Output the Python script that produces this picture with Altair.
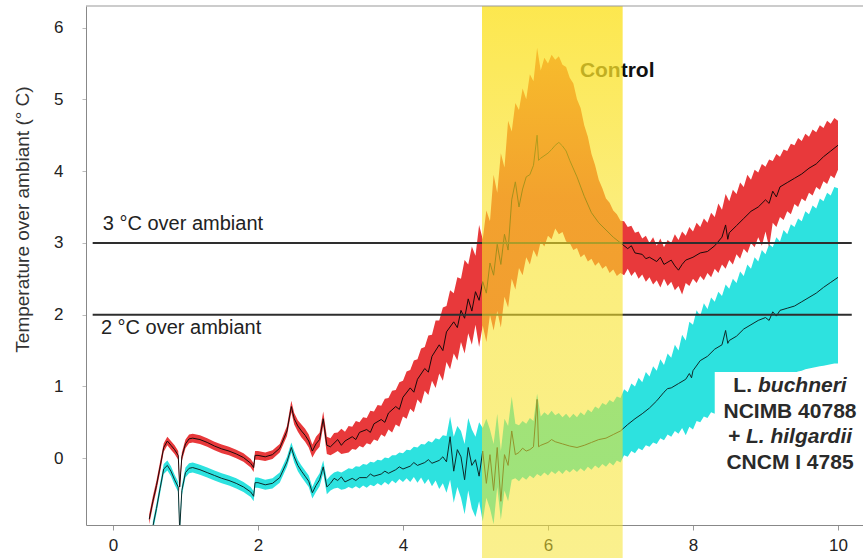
import altair as alt
import pandas as pd

# ---------------- data ----------------
# Control (red) : band and mean line
red_early_x = [0.50, 0.55, 0.60, 0.65, 0.70, 0.75, 0.80, 0.85, 0.90, 0.92, 0.95, 1.00, 1.05, 1.10, 1.20,
               1.30, 1.40, 1.50, 1.60, 1.70, 1.80, 1.90, 1.94, 1.96, 2.00, 2.10, 2.20, 2.30, 2.40, 2.46,
               2.50, 2.55, 2.60, 2.65, 2.70, 2.75, 2.80, 2.85, 2.90, 2.95]
red_early_mid = [-0.85, -0.60, -0.38, -0.12, 0.15, 0.24, 0.18, 0.12, 0.04, -0.40, 0.02, 0.20, 0.27, 0.28, 0.26,
                 0.22, 0.17, 0.13, 0.10, 0.06, 0.01, -0.07, -0.13, 0.04, 0.04, 0.02, 0.05, 0.14, 0.38, 0.72,
                 0.55, 0.45, 0.38, 0.32, 0.24, 0.10, 0.20, 0.26, 0.55, 0.18]
red_early_lo = [-0.92, -0.67, -0.45, -0.19, 0.09, 0.18, 0.12, 0.06, -0.02, -0.46, -0.04, 0.14, 0.21, 0.22, 0.20,
                0.16, 0.11, 0.07, 0.04, 0.00, -0.05, -0.13, -0.19, -0.02, -0.02, -0.04, -0.01, 0.08, 0.31, 0.64,
                0.47, 0.37, 0.29, 0.23, 0.15, 0.01, 0.10, 0.16, 0.45, 0.06]
red_early_hi = [-0.78, -0.53, -0.31, -0.05, 0.21, 0.30, 0.24, 0.18, 0.10, -0.34, 0.08, 0.26, 0.33, 0.34, 0.32,
                0.28, 0.23, 0.19, 0.16, 0.12, 0.07, -0.01, -0.07, 0.10, 0.10, 0.08, 0.11, 0.20, 0.45, 0.80,
                0.63, 0.53, 0.47, 0.41, 0.33, 0.19, 0.30, 0.36, 0.65, 0.30]

band_x = [3.00, 3.05, 3.10, 3.15, 3.20, 3.25, 3.30, 3.35, 3.40, 3.45, 3.50, 3.55, 3.60, 3.65, 3.70, 3.75,
          3.80, 3.85, 3.90, 3.95, 4.00, 4.05, 4.10, 4.15, 4.20, 4.25, 4.30, 4.35, 4.40, 4.45, 4.50, 4.55,
          4.60, 4.65, 4.70, 4.75, 4.80, 4.85, 4.90, 4.95, 5.00, 5.05, 5.10, 5.15, 5.20, 5.25, 5.30, 5.35,
          5.40, 5.45, 5.50, 5.55, 5.60, 5.65, 5.70, 5.75, 5.80, 5.85, 5.90, 5.95, 6.00, 6.05, 6.10, 6.15,
          6.20, 6.25, 6.30, 6.35, 6.40, 6.45, 6.50, 6.55, 6.60, 6.65, 6.70, 6.75, 6.80, 6.85, 6.90, 6.95,
          7.00, 7.05, 7.10, 7.15, 7.20, 7.25, 7.30, 7.35, 7.40, 7.45, 7.50, 7.55, 7.60, 7.65, 7.70, 7.75,
          7.80, 7.85, 7.90, 7.95, 8.00, 8.05, 8.10, 8.15, 8.20, 8.25, 8.30, 8.35, 8.40, 8.45, 8.50, 8.55,
          8.60, 8.65, 8.70, 8.75, 8.80, 8.85, 8.90, 8.95, 9.00, 9.05, 9.10, 9.15, 9.20, 9.25, 9.30, 9.35,
          9.40, 9.45, 9.50, 9.55, 9.60, 9.65, 9.70, 9.75, 9.80, 9.85, 9.90, 9.95, 10.00]
red_band_hi = [0.28, 0.35, 0.36, 0.41, 0.37, 0.45, 0.44, 0.52, 0.50, 0.57, 0.56, 0.66, 0.65, 0.74, 0.73, 0.83,
               0.84, 0.94, 0.95, 1.06, 1.08, 1.21, 1.23, 1.36, 1.38, 1.53, 1.55, 1.71, 1.72, 1.92, 1.92, 2.10,
               2.12, 2.34, 2.30, 2.52, 2.50, 2.76, 2.70, 2.95, 2.82, 3.25, 3.05, 3.45, 3.30, 3.95, 3.70, 4.25,
               4.05, 4.70, 4.55, 4.95, 4.85, 5.15, 5.00, 5.35, 5.25, 5.72, 5.40, 5.58, 5.50, 5.62, 5.55, 5.60,
               5.48, 5.45, 5.30, 5.22, 5.00, 4.88, 4.64, 4.48, 4.24, 4.08, 3.88, 3.76, 3.62, 3.56, 3.45, 3.40,
               3.31, 3.30, 3.22, 3.24, 3.14, 3.16, 3.06, 3.10, 3.00, 3.08, 2.96, 3.06, 2.94, 3.04, 3.00, 3.12,
               3.04, 3.16, 3.10, 3.22, 3.16, 3.28, 3.22, 3.34, 3.28, 3.42, 3.36, 3.55, 3.46, 3.68, 3.58, 3.74,
               3.68, 3.84, 3.78, 3.95, 3.88, 4.02, 3.98, 4.10, 4.06, 4.16, 4.14, 4.24, 4.20, 4.30, 4.28, 4.38,
               4.36, 4.46, 4.42, 4.52, 4.48, 4.58, 4.54, 4.64, 4.60, 4.70, 4.66, 4.74, 4.70]
red_band_lo = [0.04, 0.07, 0.10, 0.06, 0.07, 0.08, 0.13, 0.12, 0.17, 0.15, 0.21, 0.19, 0.26, 0.24, 0.33, 0.30,
               0.40, 0.36, 0.47, 0.44, 0.58, 0.55, 0.69, 0.64, 0.82, 0.76, 0.94, 0.88, 1.08, 0.98, 1.18, 1.08,
               1.34, 1.24, 1.46, 1.36, 1.62, 1.46, 1.74, 1.58, 1.86, 1.55, 1.85, 1.62, 2.00, 1.78, 2.05, 1.82,
               2.25, 2.10, 2.50, 2.35, 2.65, 2.55, 2.80, 2.70, 2.90, 2.80, 3.02, 2.95, 3.10, 3.05, 3.20, 3.12,
               3.15, 3.02, 3.00, 2.90, 2.93, 2.80, 2.84, 2.74, 2.78, 2.68, 2.73, 2.64, 2.68, 2.58, 2.63, 2.54,
               2.58, 2.55, 2.64, 2.54, 2.60, 2.50, 2.56, 2.46, 2.52, 2.42, 2.48, 2.38, 2.50, 2.40, 2.46, 2.34,
               2.40, 2.28, 2.44, 2.40, 2.50, 2.44, 2.54, 2.48, 2.58, 2.52, 2.64, 2.58, 2.70, 2.64, 2.76, 2.70,
               2.84, 2.78, 2.92, 2.86, 3.00, 2.94, 3.08, 2.96, 3.16, 2.94, 3.28, 3.22, 3.36, 3.32, 3.44, 3.40,
               3.54, 3.50, 3.62, 3.58, 3.70, 3.66, 3.78, 3.74, 3.86, 3.82, 3.94, 3.90, 4.02]

red_line_x = [3.00, 3.10, 3.15, 3.20, 3.30, 3.35, 3.40, 3.50, 3.55, 3.60, 3.70, 3.75, 3.80, 3.90, 3.95, 4.00,
              4.10, 4.15, 4.20, 4.30, 4.35, 4.40, 4.50, 4.55, 4.60, 4.70, 4.75, 4.80, 4.85, 4.90, 4.95, 5.00,
              5.05, 5.10, 5.15, 5.20, 5.25, 5.30, 5.35, 5.40, 5.45, 5.50, 5.55, 5.60, 5.65, 5.70, 5.75, 5.80,
              5.85, 5.87, 5.90, 6.00, 6.05, 6.10, 6.15, 6.20, 6.25, 6.30, 6.40, 6.50, 6.60, 6.70, 6.80, 6.90,
              7.00, 7.10, 7.15, 7.20, 7.30, 7.35, 7.40, 7.50, 7.55, 7.60, 7.70, 7.75, 7.80, 7.85, 7.90, 8.00,
              8.10, 8.20, 8.30, 8.40, 8.45, 8.48, 8.50, 8.60, 8.70, 8.80, 8.90, 9.00, 9.05, 9.10, 9.15, 9.20,
              9.30, 9.40, 9.50, 9.60, 9.70, 9.80, 9.90, 10.00]
red_line_mid = [0.16, 0.26, 0.18, 0.24, 0.30, 0.26, 0.36, 0.40, 0.36, 0.48, 0.54, 0.50, 0.63, 0.72, 0.68, 0.85,
                0.98, 0.92, 1.10, 1.25, 1.20, 1.42, 1.58, 1.50, 1.76, 1.90, 1.82, 2.06, 1.95, 2.22, 2.05, 2.32,
                2.20, 2.46, 2.30, 2.72, 2.55, 2.98, 2.70, 3.12, 2.90, 3.60, 3.85, 3.50, 3.75, 3.92, 3.95, 4.08,
                4.50, 4.15, 4.18, 4.25, 4.30, 4.36, 4.40, 4.35, 4.28, 4.15, 3.92, 3.65, 3.42, 3.28, 3.18, 3.08,
                3.00, 2.92, 2.96, 2.86, 2.84, 2.78, 2.80, 2.74, 2.80, 2.70, 2.76, 2.68, 2.62, 2.70, 2.76, 2.80,
                2.86, 2.88, 2.96, 3.08, 3.25, 3.05, 3.14, 3.24, 3.34, 3.44, 3.50, 3.60, 3.55, 3.72, 3.64, 3.78,
                3.84, 3.90, 3.96, 4.04, 4.10, 4.20, 4.28, 4.36]

# L. buchneri + L. hilgardii (cyan) : band and mean line
cyan_early_x = [0.55, 0.60, 0.65, 0.70, 0.75, 0.80, 0.85, 0.90, 0.92, 0.95, 1.00, 1.05, 1.10, 1.20, 1.30,
                1.40, 1.50, 1.60, 1.70, 1.80, 1.90, 1.94, 1.96, 2.00, 2.10, 2.20, 2.30, 2.40, 2.46, 2.50,
                2.55, 2.60, 2.65, 2.70, 2.75, 2.80, 2.85, 2.90, 2.95]
cyan_early_mid = [-0.95, -0.70, -0.42, -0.15, -0.10, -0.18, -0.30, -0.40, -1.00, -0.45, -0.20, -0.14, -0.13,
                  -0.16, -0.20, -0.24, -0.28, -0.31, -0.35, -0.40, -0.47, -0.53, -0.34, -0.34, -0.37, -0.35,
                  -0.27, -0.05, 0.15, 0.02, -0.10, -0.18, -0.25, -0.32, -0.48, -0.38, -0.30, -0.12, -0.40]
cyan_early_lo = [-1.02, -0.77, -0.49, -0.22, -0.17, -0.25, -0.37, -0.47, -1.07, -0.52, -0.27, -0.21, -0.20,
                 -0.23, -0.27, -0.31, -0.35, -0.38, -0.42, -0.47, -0.54, -0.60, -0.41, -0.41, -0.44, -0.42,
                 -0.34, -0.12, 0.08, -0.06, -0.18, -0.26, -0.33, -0.40, -0.56, -0.47, -0.39, -0.21, -0.50]
cyan_early_hi = [-0.88, -0.63, -0.35, -0.08, -0.03, -0.11, -0.23, -0.33, -0.93, -0.38, -0.13, -0.07, -0.06,
                 -0.09, -0.13, -0.17, -0.21, -0.24, -0.28, -0.33, -0.40, -0.46, -0.27, -0.27, -0.30, -0.28,
                 -0.20, 0.02, 0.22, 0.10, -0.02, -0.10, -0.17, -0.24, -0.40, -0.29, -0.21, -0.03, -0.30]

cyan_band_hi = [-0.24, -0.20, -0.18, -0.20, -0.17, -0.14, -0.15, -0.11, -0.12, -0.08, -0.09, -0.05, -0.06,
                -0.02, -0.03, 0.01, 0.00, 0.04, 0.04, 0.08, 0.07, 0.12, 0.11, 0.16, 0.15, 0.20, 0.19, 0.24,
                0.22, 0.28, 0.26, 0.32, 0.31, 0.58, 0.30, 0.45, 0.38, 0.20, 0.56, 0.40, 0.30, 0.50, 0.42, 0.55,
                0.40, 0.20, 0.62, 0.10, 0.55, 0.45, 0.86, 0.48, 0.46, 0.52, 0.48, 0.56, 0.52, 0.90, 0.58, 0.64,
                0.60, 0.66, 0.60, 0.63, 0.57, 0.62, 0.56, 0.62, 0.57, 0.64, 0.60, 0.68, 0.64, 0.72, 0.69, 0.77,
                0.74, 0.81, 0.78, 0.86, 0.84, 0.96, 0.92, 1.04, 1.00, 1.12, 1.06, 1.20, 1.14, 1.28, 1.22, 1.38,
                1.30, 1.46, 1.40, 1.58, 1.50, 1.72, 1.64, 1.90, 1.86, 2.06, 1.98, 2.16, 2.08, 2.24, 2.18, 2.32,
                2.26, 2.42, 2.36, 2.50, 2.44, 2.60, 2.54, 2.70, 2.64, 2.80, 2.74, 2.90, 2.84, 2.98, 2.94, 3.08,
                3.02, 3.18, 3.12, 3.26, 3.22, 3.34, 3.30, 3.44, 3.40, 3.52, 3.48, 3.62, 3.58, 3.70, 3.66, 3.78,
                3.76]
cyan_band_lo = [-0.45, -0.42, -0.41, -0.44, -0.43, -0.40, -0.42, -0.39, -0.42, -0.38, -0.41, -0.37, -0.39,
                -0.35, -0.38, -0.33, -0.37, -0.31, -0.35, -0.29, -0.33, -0.28, -0.33, -0.26, -0.34, -0.27,
                -0.36, -0.29, -0.39, -0.31, -0.43, -0.35, -0.48, -0.30, -0.62, -0.40, -0.55, -0.78, -0.45,
                -0.70, -0.82, -0.60, -0.88, -0.55, -0.70, -0.92, -0.40, -0.86, -0.45, -0.60, -0.30, -0.28,
                -0.32, -0.26, -0.30, -0.24, -0.28, -0.22, -0.25, -0.20, -0.24, -0.18, -0.22, -0.17, -0.22,
                -0.16, -0.20, -0.15, -0.19, -0.14, -0.18, -0.12, -0.16, -0.10, -0.14, -0.08, -0.12, -0.06,
                -0.10, -0.03, -0.06, 0.04, 0.02, 0.10, 0.07, 0.14, 0.11, 0.18, 0.16, 0.22, 0.20, 0.28, 0.25,
                0.33, 0.30, 0.38, 0.34, 0.42, 0.32, 0.44, 0.40, 0.52, 0.50, 0.58, 0.56, 0.64, 0.62, 0.70, 0.68,
                0.75, 0.74, 0.80, 0.80, 0.86, 0.86, 0.92, 0.92, 0.98, 0.98, 1.03, 1.03, 1.07, 1.08, 1.11, 1.12,
                1.15, 1.16, 1.18, 1.19, 1.21, 1.22, 1.24, 1.25, 1.26, 1.27, 1.28, 1.29, 1.30, 1.31, 1.32, 1.32]

cyan_line_x = [3.00, 3.05, 3.10, 3.15, 3.20, 3.30, 3.35, 3.40, 3.50, 3.55, 3.60, 3.70, 3.75, 3.80, 3.90, 3.95,
               4.00, 4.10, 4.15, 4.20, 4.30, 4.35, 4.40, 4.50, 4.55, 4.60, 4.65, 4.70, 4.75, 4.80, 4.85, 4.90,
               4.95, 5.00, 5.05, 5.10, 5.15, 5.20, 5.25, 5.30, 5.35, 5.40, 5.45, 5.50, 5.55, 5.60, 5.65, 5.70,
               5.75, 5.80, 5.85, 5.87, 5.90, 6.00, 6.05, 6.10, 6.20, 6.30, 6.40, 6.50, 6.60, 6.70, 6.80, 6.90,
               7.00, 7.10, 7.20, 7.30, 7.40, 7.50, 7.60, 7.65, 7.70, 7.80, 7.90, 7.95, 7.98, 8.00, 8.10, 8.20,
               8.30, 8.40, 8.45, 8.48, 8.50, 8.60, 8.70, 8.80, 8.90, 9.00, 9.05, 9.10, 9.15, 9.20, 9.30, 9.40,
               9.50, 9.60, 9.70, 9.80, 9.90, 10.00]
cyan_line_mid = [-0.35, -0.28, -0.31, -0.26, -0.33, -0.28, -0.31, -0.27, -0.27, -0.22, -0.25, -0.22, -0.18,
                 -0.21, -0.16, -0.12, -0.15, -0.11, -0.06, -0.10, -0.06, -0.02, -0.07, -0.03, 0.02, -0.05,
                 0.30, -0.18, 0.12, 0.02, -0.30, 0.15, -0.10, -0.02, -0.25, 0.10, -0.35, 0.05, -0.45, 0.15,
                 -0.60, 0.05, -0.10, 0.38, 0.05, 0.08, 0.14, 0.10, 0.12, 0.16, 0.82, 0.16, 0.18, 0.22, 0.26,
                 0.23, 0.20, 0.17, 0.15, 0.18, 0.22, 0.26, 0.28, 0.33, 0.38, 0.47, 0.55, 0.62, 0.70, 0.80,
                 0.92, 0.97, 0.98, 1.04, 1.10, 1.18, 1.12, 1.22, 1.36, 1.42, 1.52, 1.58, 1.78, 1.60, 1.64,
                 1.70, 1.80, 1.86, 1.92, 1.96, 1.92, 2.04, 1.98, 2.06, 2.09, 2.12, 2.18, 2.24, 2.30, 2.38,
                 2.45, 2.52]

# reference lines, highlighted window, labels
ref_levels = [3, 2]
ref_x_start = -0.28
ref_x_end = 10.19
window_start, window_end = 5.09, 7.03
x_ticks = [0, 2, 4, 6, 8, 10]
y_ticks = [0, 1, 2, 3, 4, 5, 6]

# ---------------- tables ----------------
red_band = pd.DataFrame({"x": red_early_x + band_x,
                         "lo": red_early_lo + red_band_lo,
                         "hi": red_early_hi + red_band_hi})
red_line = pd.DataFrame({"x": red_early_x + red_line_x, "y": red_early_mid + red_line_mid})
cyan_band = pd.DataFrame({"x": cyan_early_x + band_x,
                          "lo": cyan_early_lo + cyan_band_lo,
                          "hi": cyan_early_hi + cyan_band_hi})
cyan_line = pd.DataFrame({"x": cyan_early_x + cyan_line_x, "y": cyan_early_mid + cyan_line_mid})

W, H = 777, 519
FONT = "Liberation Sans"
RED = "#E8393B"
CYAN = "#2DE2DF"

xs = alt.Scale(domain=[-0.372, 10.345], nice=False, zero=False)
ys = alt.Scale(domain=[-0.93, 6.3], nice=False, zero=False)
xaxis = alt.Axis(values=x_ticks, title=None, grid=False, labelFontSize=17, labelFont=FONT,
                 labelColor="#222", tickSize=5, tickColor="#999", domainColor="#888",
                 labelPadding=7, labelFlush=False)
yaxis = alt.Axis(values=y_ticks, title="Temperature over ambiant (° C)", grid=False, labelFontSize=17,
                 labelFont=FONT, labelColor="#222", tickSize=4, tickColor="#bbb", domainColor="#888",
                 labelPadding=19, titleFont=FONT, titleFontSize=19, titleFontWeight="normal",
                 titleColor="#333", titleAngle=270, titleX=-64, titleY=213, titleAlign="center",
                 titleBaseline="middle")


def X(f):
    return alt.X(f, type="quantitative", scale=xs, axis=xaxis)


def Y(f):
    return alt.Y(f, type="quantitative", scale=ys, axis=yaxis)


cyan_area = alt.Chart(cyan_band).mark_area(color=CYAN, clip=True, opacity=1).encode(
    x=X("x"), y=Y("lo"), y2="hi")
red_area = alt.Chart(red_band).mark_area(color=RED, clip=True, opacity=1).encode(
    x=X("x"), y=Y("lo"), y2="hi")
cyan_mean = alt.Chart(cyan_line).mark_line(color="#0d2a2a", strokeWidth=1, clip=True).encode(
    x=X("x"), y=Y("y"))
red_mean = alt.Chart(red_line).mark_line(color="#1a0a0a", strokeWidth=1, clip=True).encode(
    x=X("x"), y=Y("y"))

refs = pd.DataFrame({"x": [ref_x_start] * 2, "x2": [ref_x_end] * 2, "y": ref_levels})
ref_rules = alt.Chart(refs).mark_rule(color="#2e2e2e", strokeWidth=2).encode(
    x=X("x"), x2="x2", y=Y("y"))

ann = pd.DataFrame({"x": [-0.14, -0.166], "y": [3.26, 1.81],
                    "t": ["3 °C over ambiant", "2 °C over ambiant"]})
ann_text = alt.Chart(ann).mark_text(align="left", baseline="middle", font=FONT, fontSize=20,
                                    color="#222").encode(x=X("x"), y=Y("y"), text="t:N")

ctrl = pd.DataFrame({"x": [6.44], "y": [5.40], "t": ["Control"]})
ctrl_text = alt.Chart(ctrl).mark_text(align="left", baseline="middle", font=FONT, fontSize=21,
                                      fontWeight="bold", color="#111").encode(
    x=X("x"), y=Y("y"), text="t:N")

box = pd.DataFrame({"x": [8.30], "x2": [10.345], "y": [1.20], "y2": [-0.93]})
white_box = alt.Chart(box).mark_rect(color="white", clip=True).encode(
    x=X("x"), x2="x2", y=Y("y"), y2="y2")

lab_x = 9.338
lab_plain = pd.DataFrame({"x": [lab_x, lab_x], "y": [0.65, -0.07], "t": ["NCIMB 40788", "CNCM I 4785"]})
lab_ital = pd.DataFrame({"x": [lab_x], "y": [0.29], "t": ["+ L. hilgardii"]})
lab_l = pd.DataFrame({"x": [lab_x], "y": [1.00], "t": ["L."]})
lab_b = pd.DataFrame({"x": [lab_x], "y": [1.00], "t": ["buchneri"]})
common = dict(baseline="middle", font=FONT, fontSize=21, fontWeight="bold", color="#2a2a2a")
t1 = alt.Chart(lab_plain).mark_text(align="center", **common).encode(x=X("x"), y=Y("y"), text="t:N")
t2 = alt.Chart(lab_ital).mark_text(align="center", fontStyle="italic", **common).encode(
    x=X("x"), y=Y("y"), text="t:N")
t3 = alt.Chart(lab_l).mark_text(align="right", dx=-38, **common).encode(x=X("x"), y=Y("y"), text="t:N")
t4 = alt.Chart(lab_b).mark_text(align="left", dx=-32, fontStyle="italic", **common).encode(
    x=X("x"), y=Y("y"), text="t:N")

win = pd.DataFrame({"x": [window_start], "x2": [window_end]})
yellow = alt.Chart(win).mark_rect(
    color=alt.LinearGradient(
        gradient="linear", x1=0, x2=0, y1=0, y2=1,
        stops=[alt.GradientStop(offset=0, color="rgba(252,226,40,0.82)"),
               alt.GradientStop(offset=0.35, color="rgba(249,226,38,0.62)"),
               alt.GradientStop(offset=1, color="rgba(246,228,48,0.55)")])
).encode(x=X("x"), x2="x2", y=alt.value(0), y2=alt.value(H + 33))

top_rule = alt.Chart(win).mark_rule(color="#999", strokeWidth=1).encode(
    x=alt.value(0), x2=alt.value(W), y=alt.value(0))

chart = alt.layer(
    cyan_area, red_area, cyan_mean, red_mean, ref_rules, ann_text, ctrl_text,
    white_box, t1, t2, t3, t4, yellow, top_rule
).properties(
    width=W, height=H,
    padding={"left": 86, "top": 6, "right": 0, "bottom": 33},
    autosize=alt.AutoSizeParams(type="none"),
    background="white",
).configure_view(stroke=None)

chart.save("out.html", embed_options={"renderer": "svg", "actions": False})
